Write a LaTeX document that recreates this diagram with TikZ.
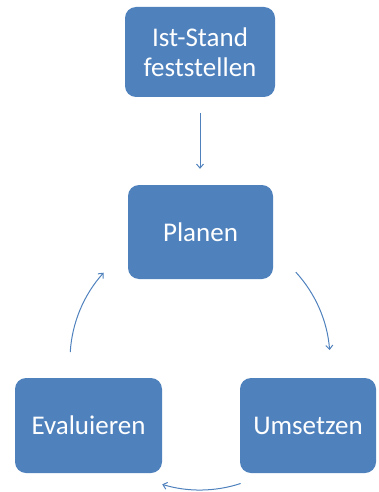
\documentclass[tikz,border=0pt]{standalone}
\usepackage{fontspec}
\setmainfont{Carlito}
\usetikzlibrary{arrows.meta,calc}
\definecolor{boxblue}{HTML}{4F81BD}
\tikzset{
  stepbox/.style={draw=none, fill=boxblue, rounded corners=11pt, text=white,
    font=\fontsize{27}{30}\selectfont, align=center, inner sep=0pt},
  arr/.style={draw=boxblue, line width=1pt, -{Straight Barb[length=4pt,width=7pt]}}
}
\begin{document}
\begin{tikzpicture}[x=1pt,y=1pt]
\useasboundingbox (0,0) rectangle (378,-492);
\node[stepbox, minimum width=150pt, minimum height=90pt] (ist) at (200,-52) {Ist-Stand\\feststellen};
\node[stepbox, minimum width=145pt, minimum height=94pt] (plan) at (200.5,-232) {Planen};
\node[stepbox, minimum width=147pt, minimum height=95pt] (eval) at (88.5,-425.5) {Evaluieren};
\node[stepbox, minimum width=136pt, minimum height=95pt] (ums) at (308,-425.5) {Umsetzen};
\draw[arr, shorten <=16pt, shorten >=16pt] (ist.south) -- (ist.south |- plan.north);
\coordinate (c) at (200,-360);
\coordinate (r1) at ($(c)+(42.5:130)$);
\coordinate (b1) at ($(c)+(-71.8:130)$);
\coordinate (l1) at ($(c)+(176.5:130)$);
\draw[arr] (r1) arc[start angle=42.5, end angle=4.4, radius=130];
\draw[arr] (b1) arc[start angle=-71.8, end angle=-106.9, radius=130];
\draw[arr] (l1) arc[start angle=176.5, end angle=137.8, radius=130];
\end{tikzpicture}
\end{document}
